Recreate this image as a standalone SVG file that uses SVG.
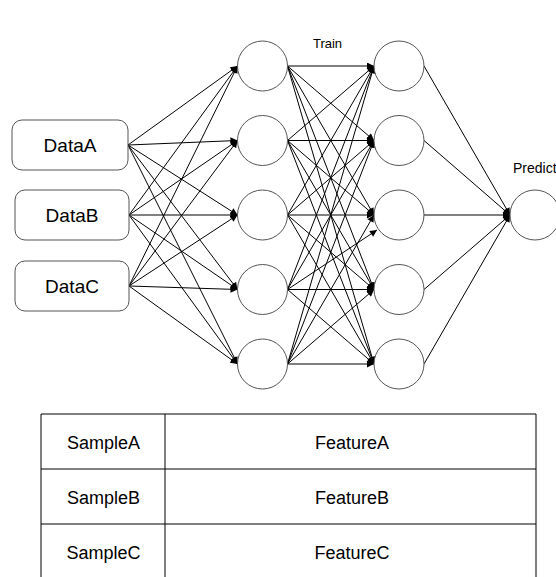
<svg xmlns="http://www.w3.org/2000/svg" width="556" height="577" viewBox="0 0 556 577">
  <style>
    .box { fill: #fff; stroke: #555; stroke-width: 1; }
    .neuron { fill: #fff; stroke: #555; stroke-width: 1; }
    .edge { stroke: #000; stroke-width: 1; fill: none; marker-end: url(#arrow); }
    .lbl { font-family: "Liberation Sans", Arial, sans-serif; fill: #000; text-anchor: middle; }
    .grid { stroke: #000; stroke-width: 1; fill: none; }
  </style>
  <defs>
    <marker id="arrow" viewBox="0 0 10 10" refX="10" refY="5" markerWidth="8" markerHeight="7" markerUnits="userSpaceOnUse" orient="auto">
      <path d="M0,0 L10,5 L0,10 z" fill="#000"/>
    </marker>
  </defs>
  <rect width="556" height="577" fill="#fff"/>

  <!-- connectors -->
  <g id="connectors">
    <!-- inputs to first hidden layer -->
    <line class="edge" x1="128" y1="145" x2="237.5" y2="66"/>
    <line class="edge" x1="128" y1="145" x2="237.5" y2="140.5"/>
    <line class="edge" x1="128" y1="145" x2="237.5" y2="215"/>
    <line class="edge" x1="128" y1="145" x2="237.5" y2="289.5"/>
    <line class="edge" x1="128" y1="145" x2="237.5" y2="364"/>
    <line class="edge" x1="129" y1="215" x2="237.5" y2="66"/>
    <line class="edge" x1="129" y1="215" x2="237.5" y2="140.5"/>
    <line class="edge" x1="129" y1="215" x2="237.5" y2="215"/>
    <line class="edge" x1="129" y1="215" x2="237.5" y2="289.5"/>
    <line class="edge" x1="129" y1="215" x2="237.5" y2="364"/>
    <line class="edge" x1="129" y1="286" x2="237.5" y2="66"/>
    <line class="edge" x1="129" y1="286" x2="237.5" y2="140.5"/>
    <line class="edge" x1="129" y1="286" x2="237.5" y2="215"/>
    <line class="edge" x1="129" y1="286" x2="237.5" y2="289.5"/>
    <line class="edge" x1="129" y1="286" x2="237.5" y2="364"/>

    <!-- first hidden layer to second hidden layer -->
    <line class="edge" x1="287.5" y1="66" x2="374" y2="66"/>
    <line class="edge" x1="287.5" y1="66" x2="374" y2="140.5"/>
    <line class="edge" x1="287.5" y1="66" x2="374" y2="215"/>
    <line class="edge" x1="287.5" y1="66" x2="374" y2="289.5"/>
    <line class="edge" x1="287.5" y1="66" x2="374" y2="364"/>
    <line class="edge" x1="287.5" y1="140.5" x2="374" y2="66"/>
    <line class="edge" x1="287.5" y1="140.5" x2="374" y2="140.5"/>
    <line class="edge" x1="287.5" y1="140.5" x2="374" y2="215"/>
    <line class="edge" x1="287.5" y1="140.5" x2="374" y2="289.5"/>
    <line class="edge" x1="287.5" y1="140.5" x2="374" y2="364"/>
    <line class="edge" x1="287.5" y1="215" x2="374" y2="66"/>
    <line class="edge" x1="287.5" y1="215" x2="374" y2="140.5"/>
    <line class="edge" x1="287.5" y1="215" x2="374" y2="215"/>
    <line class="edge" x1="287.5" y1="215" x2="374" y2="289.5"/>
    <line class="edge" x1="287.5" y1="215" x2="374" y2="364"/>
    <line class="edge" x1="287.5" y1="289.5" x2="374" y2="66"/>
    <line class="edge" x1="287.5" y1="289.5" x2="374" y2="140.5"/>
    <line class="edge" x1="287.5" y1="289.5" x2="377" y2="230"/>
    <line class="edge" x1="287.5" y1="289.5" x2="374" y2="289.5"/>
    <line class="edge" x1="287.5" y1="289.5" x2="374" y2="364"/>
    <line class="edge" x1="287.5" y1="364" x2="374" y2="66"/>
    <line class="edge" x1="287.5" y1="364" x2="374" y2="140.5"/>
    <line class="edge" x1="287.5" y1="364" x2="374" y2="215"/>
    <line class="edge" x1="287.5" y1="364" x2="374" y2="289.5"/>
    <line class="edge" x1="287.5" y1="364" x2="374" y2="364"/>

    <!-- second hidden layer to output -->
    <line class="edge" x1="424" y1="66" x2="510" y2="215"/>
    <line class="edge" x1="424" y1="140.5" x2="510" y2="215"/>
    <line class="edge" x1="424" y1="215" x2="510" y2="215"/>
    <line class="edge" x1="424" y1="289.5" x2="510" y2="215"/>
    <line class="edge" x1="424" y1="364" x2="510" y2="215"/>
  </g>

  <!-- input nodes -->
  <g id="dataA">
    <rect class="box" x="12" y="120" width="116" height="50" rx="10"/>
    <text class="lbl" x="70" y="152" font-size="19">DataA</text>
  </g>
  <g id="dataB">
    <rect class="box" x="15" y="190" width="114" height="50" rx="10"/>
    <text class="lbl" x="72" y="222" font-size="19">DataB</text>
  </g>
  <g id="dataC">
    <rect class="box" x="15" y="261" width="114" height="50" rx="10"/>
    <text class="lbl" x="72" y="293" font-size="19">DataC</text>
  </g>

  <!-- first hidden layer -->
  <g id="h1-1"><circle class="neuron" cx="262.5" cy="66" r="25"/></g>
  <g id="h1-2"><circle class="neuron" cx="262.5" cy="140.5" r="25"/></g>
  <g id="h1-3"><circle class="neuron" cx="262.5" cy="215" r="25"/></g>
  <g id="h1-4"><circle class="neuron" cx="262.5" cy="289.5" r="25"/></g>
  <g id="h1-5"><circle class="neuron" cx="262.5" cy="364" r="25"/></g>

  <!-- second hidden layer -->
  <g id="h2-1"><circle class="neuron" cx="399" cy="66" r="25"/></g>
  <g id="h2-2"><circle class="neuron" cx="399" cy="140.5" r="25"/></g>
  <g id="h2-3"><circle class="neuron" cx="399" cy="215" r="25"/></g>
  <g id="h2-4"><circle class="neuron" cx="399" cy="289.5" r="25"/></g>
  <g id="h2-5"><circle class="neuron" cx="399" cy="364" r="25"/></g>

  <!-- output node -->
  <g id="predict">
    <circle class="neuron" cx="535" cy="215" r="25"/>
  </g>

  <!-- labels -->
  <text class="lbl" x="327.5" y="48" font-size="13">Train</text>
  <text class="lbl" x="513" y="173" font-size="14" text-anchor="start" style="text-anchor:start">Predict</text>

  <!-- table -->
  <g id="table">
    <line class="grid" x1="41" y1="414" x2="536" y2="414" stroke="#444"/>
    <line class="grid" x1="41" y1="469" x2="536" y2="469"/>
    <line class="grid" x1="41" y1="524" x2="536" y2="524"/>
    <line class="grid" x1="41" y1="414" x2="41" y2="577"/>
    <line class="grid" x1="165" y1="414" x2="165" y2="577"/>
    <line class="grid" x1="536" y1="414" x2="536" y2="577" stroke="#777"/>
    <text class="lbl" x="103.5" y="449" font-size="18">SampleA</text>
    <text class="lbl" x="352" y="449" font-size="18">FeatureA</text>
    <text class="lbl" x="103.5" y="504" font-size="18">SampleB</text>
    <text class="lbl" x="352" y="504" font-size="18">FeatureB</text>
    <text class="lbl" x="103.5" y="559" font-size="18">SampleC</text>
    <text class="lbl" x="352" y="559" font-size="18">FeatureC</text>
  </g>
</svg>
